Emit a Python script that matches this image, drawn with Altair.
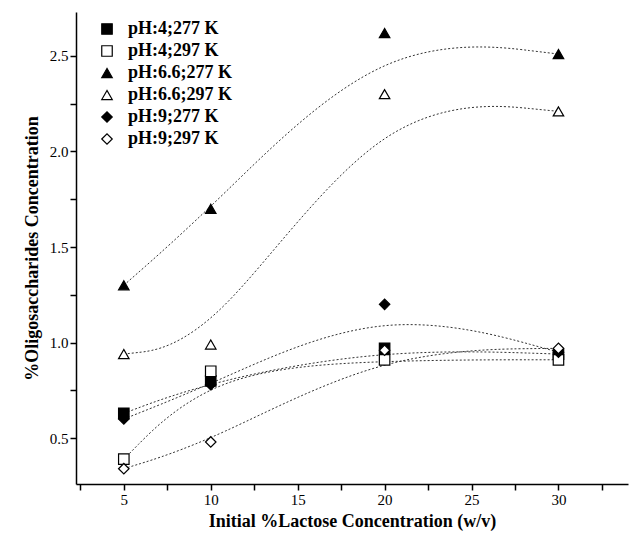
import pandas as pd
import altair as alt

lactose = [5, 10, 20, 30]
series = ['pH:4;277 K', 'pH:4;297 K', 'pH:6.6;277 K', 'pH:6.6;297 K', 'pH:9;277 K', 'pH:9;297 K']
values = [
    [0.63, 0.80, 0.97, 0.94],
    [0.39, 0.85, 0.91, 0.91],
    [1.30, 1.70, 2.62, 2.51],
    [0.94, 0.99, 2.30, 2.21],
    [0.60, 0.78, 1.20, 0.95],
    [0.34, 0.48, 0.96, 0.97],
]
shapes = ['square', 'square', 'triangle-up', 'triangle-up', 'diamond', 'diamond']
fills = ['black', 'white', 'black', 'white', 'black', 'white']

rows = []
for s, vals in zip(series, values):
    for x, y in zip(lactose, vals):
        rows.append({'series': s, 'x': x, 'y': y})
df = pd.DataFrame(rows)

font = 'Liberation Serif'
xs = alt.Scale(domain=[2.25, 34], nice=False, zero=False)
ys = alt.Scale(domain=[0.26, 2.73], nice=False, zero=False)
xticks = [2.5 * i for i in range(1, 14)]
yticks = [0.25 * i for i in range(2, 11)]

X = alt.X('x:Q', scale=xs, title='Initial %Lactose Concentration (w/v)',
          axis=alt.Axis(values=xticks, labelExpr="datum.value % 5 == 0 ? datum.value : ''",
                        grid=False, domainColor='black', domainWidth=1.5, tickColor='black',
                        tickWidth=1.5, tickSize=6, labelFontSize=15, titleFontSize=18,
                        titleFontWeight='bold', labelFont=font, titleFont=font,
                        labelColor='black', titleColor='black', titlePadding=5))
Y = alt.Y('y:Q', scale=ys, title='%Oligosaccharides Concentration',
          axis=alt.Axis(values=yticks, labelExpr="(datum.value * 100) % 50 == 0 ? format(datum.value, '.1f') : ''",
                        grid=False, domainColor='black', domainWidth=1.5, tickColor='black',
                        tickWidth=1.5, tickSize=6, labelFontSize=15, titleFontSize=18,
                        titleFontWeight='bold', labelFont=font, titleFont=font,
                        labelColor='black', titleColor='black', titlePadding=8))

lines = alt.Chart(df).mark_line(interpolate='basis', color='#333', strokeDash=[2, 2], strokeWidth=1).encode(
    x=X, y=Y, detail='series:N')

points = alt.Chart(df).mark_point(size=110, strokeWidth=1.2, opacity=1).encode(
    x=X, y=Y,
    shape=alt.Shape('series:N', scale=alt.Scale(domain=series, range=shapes), title=None),
    fill=alt.Fill('series:N', scale=alt.Scale(domain=series, range=fills), title=None),
    stroke=alt.Stroke('series:N', scale=alt.Scale(domain=series, range=['black'] * 6), title=None),
)

chart = (lines + points).properties(
    width=552, height=472,
    autosize=alt.AutoSizeParams(type='none'),
    padding={'left': 68, 'top': 4, 'right': 7, 'bottom': 50},
).configure_view(stroke=None).configure_legend(
    orient='none', legendX=22, legendY=8, labelFont=font, labelFontSize=18,
    labelFontWeight='bold', labelColor='black', symbolSize=110,
    symbolStrokeWidth=1.2, rowPadding=4, labelOffset=12,
)

chart.save('out.html', embed_options={'renderer': 'svg', 'actions': False})
